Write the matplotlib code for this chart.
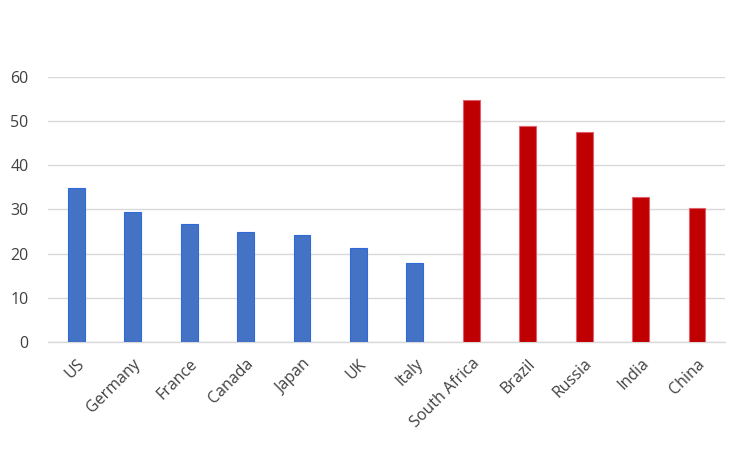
import matplotlib
matplotlib.use("Agg")
import matplotlib.pyplot as plt

plt.rcParams['font.family'] = ['Open Sans', 'DejaVu Sans']

countries = ["US", "Germany", "France", "Canada", "Japan", "UK", "Italy",
             "South Africa", "Brazil", "Russia", "India", "China"]
values = [34.8, 29.5, 26.8, 24.9, 24.3, 21.3, 17.8, 54.8, 48.8, 47.6, 32.8, 30.4]
groups = ["G7"] * 7 + ["EM"] * 5
yticks = [0, 10, 20, 30, 40, 50, 60]

fill = {"G7": "#4472C4", "EM": "#C00000"}
edge = {"G7": "#2F6BD8", "EM": "#E06070"}

fig = plt.figure(figsize=(7.5, 4.5), dpi=100)
ax = fig.add_axes([0.064, 0.24, 0.903, 0.589])

x = list(range(len(countries)))
ax.bar(x, values, width=0.3,
       color=[fill[g] for g in groups],
       edgecolor=[edge[g] for g in groups], linewidth=0.8, zorder=3)

ax.set_xlim(-0.5, len(countries) - 0.5)
ax.set_ylim(0, 60)
ax.set_yticks(yticks)
ax.set_yticklabels([str(t) for t in yticks])
ax.set_xticks(x)
ax.set_xticklabels(countries, rotation=45, ha="right", rotation_mode="anchor")
ax.tick_params(axis="both", length=0, labelsize=11.5, colors="#404040")
ax.tick_params(axis="y", pad=14)
ax.tick_params(axis="x", pad=10)
ax.grid(axis="y", color="#D9D9D9", linewidth=1.0, zorder=0)
for s in ["top", "right", "left"]:
    ax.spines[s].set_visible(False)
ax.spines["bottom"].set_color("#D9D9D9")
ax.spines["bottom"].set_linewidth(1.0)

fig.savefig("out.png", dpi=100)
